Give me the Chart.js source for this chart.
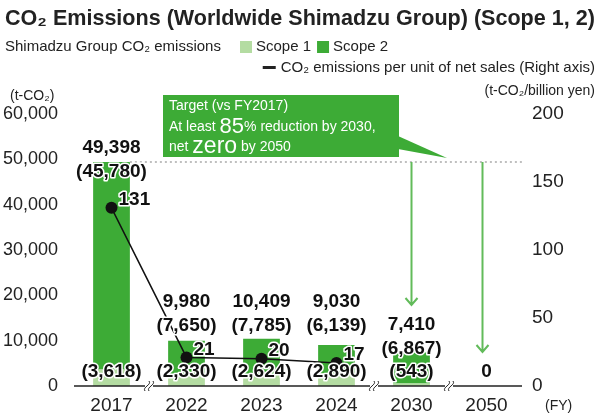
<!DOCTYPE html>
<html>
<head>
<meta charset="utf-8">
<script src="https://cdn.jsdelivr.net/npm/chart.js@4.4.1/dist/chart.umd.min.js"></script>
<style>
  body { margin: 0; background: #fff; }
  canvas { display: block; }
</style>
</head>
<body>
<canvas id="c" width="600" height="415"></canvas>
<script>
const years = ['2017', '2022', '2023', '2024', '2030', '2050'];
const scope1 = [3618, 2330, 2624, 2890, 543, 0];
const scope2 = [45780, 7650, 7785, 6139, 6867, 0];
const totals = [49398, 9980, 10409, 9030, 7410, 0];
const intensity = [131, 21, 20, 17, null, null];
const leftTicks = [0, 10000, 20000, 30000, 40000, 50000, 60000];
const rightTicks = [0, 50, 100, 150, 200];

const FONT = '"Liberation Sans", Arial, Helvetica, sans-serif';
const GREEN = '#3dab36';
const LIGHT = '#b4dca2';
const ARROW = '#62bb5a';

const fmt = v => v.toLocaleString('en-US');

function haloText(ctx, txt, x, y) {
  ctx.save();
  ctx.strokeStyle = '#fff';
  ctx.lineWidth = 3;
  ctx.lineJoin = 'round';
  ctx.strokeText(txt, x, y);
  ctx.restore();
  ctx.fillText(txt, x, y);
}

// draws runs of [text, size, weight] one after another
function richText(ctx, runs, x, y) {
  runs.forEach(([t, size, weight]) => {
    ctx.font = (weight || 'normal') + ' ' + size + 'px ' + FONT;
    ctx.fillText(t, x, y);
    x += ctx.measureText(t).width;
  });
  return x;
}

// pick a font size so the text spans the given width
function fitText(ctx, txt, x, y, width, weight) {
  ctx.font = weight + ' 20px ' + FONT;
  const size = 20 * width / ctx.measureText(txt).width;
  ctx.font = weight + ' ' + size.toFixed(2) + 'px ' + FONT;
  ctx.fillText(txt, x, y);
}

function arrowDown(ctx, x, y0, y1) {
  ctx.beginPath();
  ctx.moveTo(x, y0);
  ctx.lineTo(x, y1);
  ctx.moveTo(x - 6, y1 - 7);
  ctx.lineTo(x, y1);
  ctx.lineTo(x + 6, y1 - 7);
  ctx.stroke();
}

const decor = {
  id: 'decor',
  afterDraw(chart) {
    const ctx = chart.ctx;
    const xs = chart.scales.x, ys = chart.scales.y, yr = chart.scales.y1;
    const area = chart.chartArea;
    ctx.save();
    ctx.fillStyle = '#222';
    ctx.textBaseline = 'middle';
    ctx.textAlign = 'left';

    // title + legend
    fitText(ctx, 'CO\u2082 Emissions (Worldwide Shimadzu Group) (Scope 1, 2)', 5, 19, 590, 'bold');
    ctx.font = '15px ' + FONT;
    ctx.fillText('Shimadzu Group CO\u2082 emissions', 5, 47);
    let lx = 240;
    ctx.fillStyle = LIGHT;
    ctx.fillRect(lx, 41, 12, 12);
    ctx.fillStyle = '#222';
    ctx.fillText('Scope 1', lx + 16, 47);
    lx += 16 + ctx.measureText('Scope 1').width + 6;
    ctx.fillStyle = GREEN;
    ctx.fillRect(lx, 41, 12, 12);
    ctx.fillStyle = '#222';
    ctx.fillText('Scope 2', lx + 16, 47);
    const l2 = 'CO\u2082 emissions per unit of net sales (Right axis)';
    const l2x = 595 - ctx.measureText(l2).width;
    ctx.fillRect(l2x - 18, 66, 13, 3);
    ctx.fillText(l2, l2x, 68);

    // units
    ctx.font = '14px ' + FONT;
    ctx.fillText('(t-CO\u2082)', 10, 96);
    ctx.textAlign = 'right';
    ctx.fillText('(t-CO\u2082/billion yen)', 595, 91);
    ctx.textAlign = 'left';
    ctx.fillText('(FY)', 545, 406);

    // x axis line with breaks
    const base = area.bottom;
    const mids = [0, 3, 4].map(i => (xs.getPixelForValue(i) + xs.getPixelForValue(i + 1)) / 2);
    ctx.strokeStyle = '#222';
    ctx.lineWidth = 1.5;
    let from = area.left;
    mids.forEach(m => {
      ctx.beginPath(); ctx.moveTo(from, base); ctx.lineTo(m - 4, base); ctx.stroke();
      from = m + 4;
      [-2, 2].forEach(d => {
        ctx.beginPath();
        ctx.lineWidth = 1;
        ctx.moveTo(m + d - 2, base + 5);
        ctx.bezierCurveTo(m + d - 5, base + 1, m + d + 5, base - 1, m + d + 2, base - 5);
        ctx.stroke();
      });
      ctx.lineWidth = 1.5;
    });
    ctx.beginPath(); ctx.moveTo(from, base); ctx.lineTo(area.right - 2, base); ctx.stroke();

    // dotted reference line at FY2017 level
    const refY = ys.getPixelForValue(totals[0]);
    const bar0 = chart.getDatasetMeta(1).data[0];
    ctx.strokeStyle = '#aaa';
    ctx.setLineDash([2, 3]);
    ctx.beginPath();
    ctx.moveTo(bar0.x + bar0.width / 2, refY);
    ctx.lineTo(area.right - 2, refY);
    ctx.stroke();
    ctx.setLineDash([]);

    // target arrows
    ctx.strokeStyle = ARROW;
    ctx.lineWidth = 2;
    arrowDown(ctx, xs.getPixelForValue(4), refY, 305);
    arrowDown(ctx, xs.getPixelForValue(5) - 4, refY, 352);

    // target box
    ctx.fillStyle = GREEN;
    ctx.fillRect(163, 95, 236, 62);
    ctx.beginPath();
    ctx.moveTo(398, 136); ctx.lineTo(447, 158); ctx.lineTo(398, 149);
    ctx.closePath(); ctx.fill();
    ctx.fillStyle = '#fff';
    richText(ctx, [['Target (vs FY2017)', 14]], 169, 106);
    richText(ctx, [['At least ', 14], ['85', 22], ['% reduction by 2030,', 14]], 169, 127);
    richText(ctx, [['net ', 14], ['zero', 23], [' by 2050', 14]], 169, 147);

    // bar labels
    ctx.fillStyle = '#111';
    ctx.textAlign = 'center';
    ctx.font = 'bold 19px ' + FONT;
    const lineRow = yr.getPixelForValue(Math.max(...intensity.slice(1).filter(v => v != null))) - 32;
    years.forEach((yr_, i) => {
      const x = xs.getPixelForValue(i);
      if (totals[i] === 0) {
        haloText(ctx, '0', x, base - 14);
        return;
      }
      const top = ys.getPixelForValue(totals[i]);
      let py;
      if (i === 0) py = top + 10;
      else if (intensity[i] != null) py = lineRow;
      else py = top - 4;
      haloText(ctx, fmt(totals[i]), x, py - 24);
      haloText(ctx, '(' + fmt(scope2[i]) + ')', x, py);
      haloText(ctx, '(' + fmt(scope1[i]) + ')', x, base - 14);
    });

    // line labels
    ctx.textAlign = 'left';
    const pts = chart.getDatasetMeta(0).data;
    intensity.forEach((v, i) => {
      if (v == null) return;
      haloText(ctx, String(v), pts[i].x + 7, pts[i].y - 8);
    });
    ctx.restore();
  }
};

new Chart(document.getElementById('c'), {
  data: {
    labels: years,
    datasets: [
      {
        type: 'line', label: 'CO2 emissions per unit of net sales', data: intensity,
        yAxisID: 'y1', borderColor: '#111', borderWidth: 1.5,
        pointRadius: 6, pointBackgroundColor: '#111', pointBorderWidth: 0, order: 0
      },
      {
        type: 'bar', label: 'Scope 1', data: scope1, yAxisID: 'y', stack: 's',
        backgroundColor: LIGHT, barPercentage: 0.49, categoryPercentage: 1, order: 1
      },
      {
        type: 'bar', label: 'Scope 2', data: scope2, yAxisID: 'y', stack: 's',
        backgroundColor: GREEN, barPercentage: 0.49, categoryPercentage: 1, order: 1
      }
    ]
  },
  options: {
    responsive: false,
    animation: false,
    devicePixelRatio: 1,
    layout: { padding: { top: 114, left: 0, right: 0, bottom: 0 } },
    plugins: { legend: { display: false }, title: { display: false }, tooltip: { enabled: false } },
    scales: {
      x: {
        stacked: true,
        grid: { display: false, drawTicks: false },
        border: { display: false },
        ticks: { font: { family: FONT, size: 19 }, color: '#222', padding: 8 },
        afterFit: s => { s.height = 29; }
      },
      y: {
        position: 'left', stacked: true, min: 0, max: 60000,
        afterBuildTicks: s => { s.ticks = leftTicks.map(v => ({ value: v })); },
        grid: { display: false, drawTicks: false },
        border: { display: false },
        ticks: { font: { family: FONT, size: 18 }, color: '#222', padding: 16, callback: v => fmt(v) },
        afterFit: s => { s.width = 74; }
      },
      y1: {
        position: 'right', min: 0, max: 200,
        afterBuildTicks: s => { s.ticks = rightTicks.map(v => ({ value: v })); },
        grid: { display: false, drawTicks: false },
        border: { display: false },
        ticks: { font: { family: FONT, size: 19 }, color: '#222', padding: 8 },
        afterFit: s => { s.width = 76; }
      }
    }
  },
  plugins: [decor]
});
</script>
</body>
</html>
